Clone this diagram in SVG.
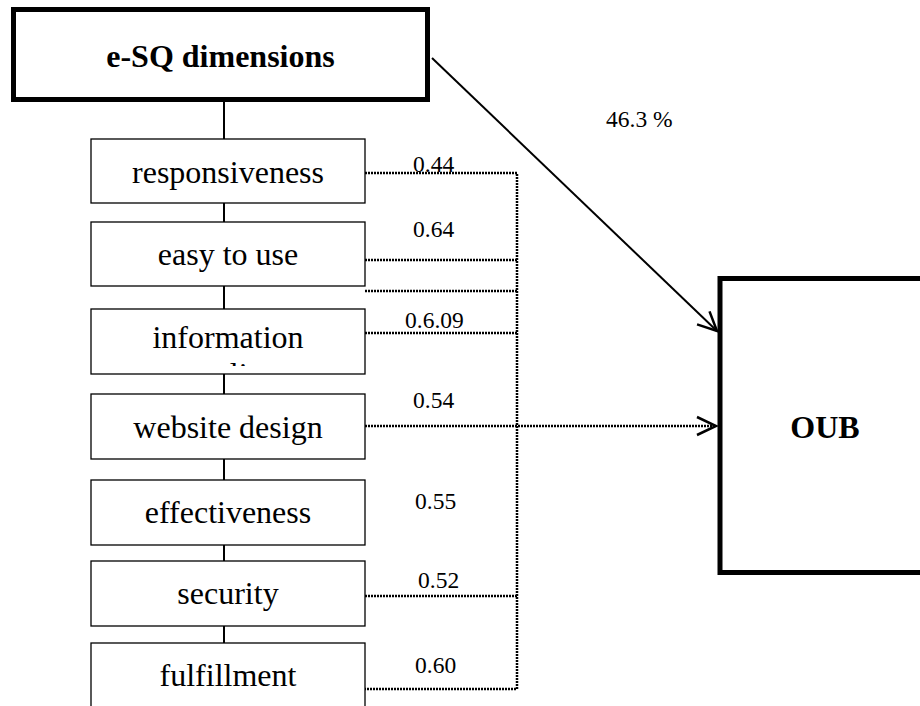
<svg xmlns="http://www.w3.org/2000/svg" width="920" height="706" viewBox="0 0 920 706">
<style>
.t{font-family:"Liberation Serif","Times New Roman",serif;fill:#000}
.n{font-size:32px;text-anchor:middle}
.b{font-weight:bold}
.l{font-size:23.5px}
.box{fill:#fff;stroke:#000;stroke-width:1.3}
.thick{fill:#fff;stroke:#000;stroke-width:5}
.dot{fill:none;stroke:#000;stroke-width:2.5;stroke-dasharray:2 1}
.solid{fill:none;stroke:#000;stroke-width:2}
</style>
<defs>
<marker id="arr" markerUnits="userSpaceOnUse" markerWidth="30" markerHeight="30" viewBox="-25 -15 30 30" refX="0" refY="0" orient="auto">
<path d="M-19,-9 L0,0 L-19,9" fill="none" stroke="#000" stroke-width="2.5" stroke-dasharray="none"/>
</marker>
<clipPath id="infoclip"><rect x="92" y="310" width="272" height="56"/></clipPath>
</defs>
<rect width="920" height="706" fill="#fff"/>
<g id="connectors">
<line class="solid" x1="224" y1="102" x2="224" y2="643"/>
<line class="solid" x1="432" y1="58" x2="717" y2="331" marker-end="url(#arr)"/>
<path class="dot" d="M365,173 H517 V689 H365"/>
<line class="dot" x1="365" y1="260" x2="517" y2="260"/>
<line class="dot" x1="365" y1="291" x2="517" y2="291"/>
<line class="dot" x1="365" y1="333" x2="517" y2="333"/>
<line class="dot" x1="365" y1="596" x2="517" y2="596"/>
<line class="dot" x1="365" y1="426" x2="716" y2="426" marker-end="url(#arr)"/>
</g>
<g id="labels">
<text class="t l" x="413" y="172">0.44</text>
<text class="t l" x="413" y="237">0.64</text>
<text class="t l" x="405" y="328">0.6.09</text>
<text class="t l" x="413" y="408">0.54</text>
<text class="t l" x="415" y="509">0.55</text>
<text class="t l" x="418" y="588">0.52</text>
<text class="t l" x="415" y="673">0.60</text>
<text class="t l" x="606" y="127">46.3 %</text>
</g>
<g id="esq">
<rect class="thick" x="13.5" y="9.5" width="414" height="90"/>
<text class="t n b" x="220.5" y="67">e-SQ dimensions</text>
</g>
<g id="responsiveness">
<rect class="box" x="91" y="139" width="274" height="64"/>
<text class="t n" x="228" y="183">responsiveness</text>
</g>
<g id="easy">
<rect class="box" x="91" y="222" width="274" height="64"/>
<text class="t n" x="228" y="265">easy to use</text>
</g>
<g id="information">
<rect class="box" x="91" y="309" width="274" height="65"/>
<text class="t n" x="228" y="348">information</text>
<text class="t n" x="228" y="385" clip-path="url(#infoclip)">quality</text>
</g>
<g id="website">
<rect class="box" x="91" y="394" width="274" height="65"/>
<text class="t n" x="228" y="438">website design</text>
</g>
<g id="effectiveness">
<rect class="box" x="91" y="480" width="274" height="65"/>
<text class="t n" x="228" y="523">effectiveness</text>
</g>
<g id="security">
<rect class="box" x="91" y="561" width="274" height="65"/>
<text class="t n" x="228" y="604">security</text>
</g>
<g id="fulfillment">
<rect class="box" x="91" y="643" width="274" height="80"/>
<text class="t n" x="228" y="686">fulfillment</text>
</g>
<g id="oub">
<rect class="thick" x="720" y="278.5" width="240" height="294"/>
<text class="t n b" x="825" y="438">OUB</text>
</g>
</svg>
